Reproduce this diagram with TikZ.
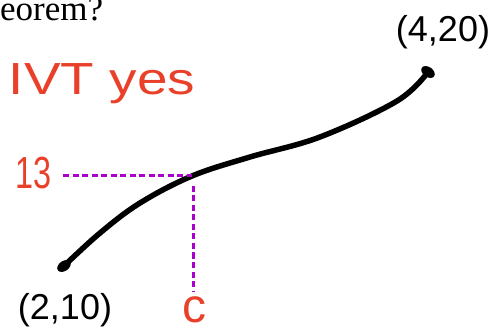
\documentclass[tikz,border=0pt]{standalone}
\usepackage{fontspec}
\setmainfont{Liberation Serif}
\newfontfamily\inkfont{Liberation Sans}
\usepackage{xcolor}
\definecolor{inkred}{RGB}{233,64,42}
\definecolor{inkpurple}{RGB}{170,0,204}
\usetikzlibrary{positioning}

\tikzset{
  ink/.style={line width=5.5pt, line cap=round, black},
  guide/.style={inkpurple, line width=3pt, dash pattern=on 6pt off 3.5pt},
  redlabel/.style={inkred, inner sep=0pt, font=\inkfont\fontsize{45}{45}\selectfont},
  blacklabel/.style={black, inner sep=0pt, font=\inkfont\fontsize{36}{36}\selectfont}
}

\begin{document}
\begin{tikzpicture}[x=1pt, y=-1pt]
  \useasboundingbox (0,0) rectangle (498,331);

  % Question text (cut off)
  \node[anchor=base west, inner sep=0pt, font=\fontsize{35}{35}\selectfont] (question) at (0,21) {eorem?};

  % Answer
  \node[redlabel, xscale=1.22, transform shape] (answer) at (102,84) {IVT yes};

  % End points of the curve
  \coordinate (p2) at (64,266);
  \coordinate (p4) at (428,72);
  \fill[rotate around={35:(p2)}] (p2) ellipse (7.5 and 5);
  \fill[rotate around={-35:(p4)}] (p4) ellipse (7.5 and 5);
  \node[blacklabel] (p2label) at (65,310) {(2,10)};
  \node[blacklabel] (p4label) at (443,32) {(4,20)};

  % Curve
  \draw[ink] plot[smooth, tension=0.6] coordinates
    {(p2) (100,233) (140,203) (192,176) (250,157) (320,137) (397,101) (p4)};

  % Value 13 and its point c
  \coordinate (cross) at (192,176);
  \coordinate (leftend) at (63,176);
  \coordinate (vtop) at (193,186);
  \coordinate (vbottom) at (193,291);
  \draw[guide] (leftend) -- (cross);
  \draw[guide] (vtop) -- (vbottom);
  \node[redlabel, xscale=0.72, transform shape] (level) at (34,173) {13};
  \node[redlabel, font=\inkfont\fontsize{48}{48}\selectfont] (cpoint) at (194,310) {c};
\end{tikzpicture}
\end{document}
